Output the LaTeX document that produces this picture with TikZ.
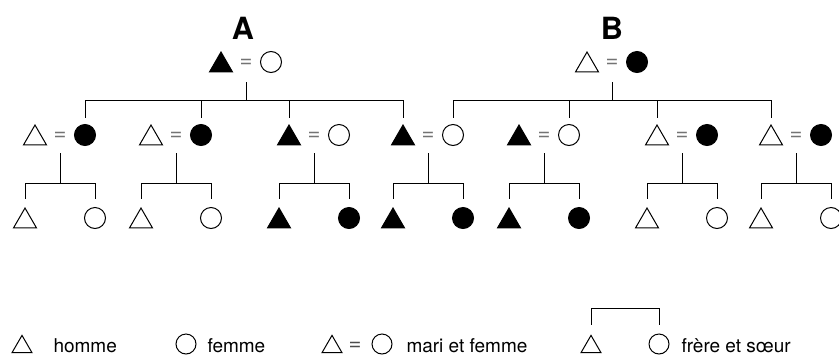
\documentclass[tikz,border=0pt]{standalone}
\usepackage{fontspec}
\setmainfont{TeX Gyre Heros}
\usetikzlibrary{shapes.geometric}
\tikzstyle{man}=[draw, regular polygon, regular polygon sides=3,
                 minimum size=13.3pt, inner sep=0pt, yshift=-1.66pt]
\tikzstyle{woman}=[draw, circle, minimum size=10.5pt, inner sep=0pt]
\tikzstyle{keyman}=[man, minimum size=11.5pt, yshift=0.22pt]
\tikzstyle{keywoman}=[woman, minimum size=10pt]
\tikzstyle{kin}=[fill=black]
\tikzstyle{nonkin}=[fill=white]
\tikzstyle{wed}=[text=black!55, inner sep=0pt, font=\fontsize{11}{13}\selectfont]
\tikzstyle{lineage}=[inner sep=0pt, font=\fontsize{15.3}{18}\selectfont\bfseries]
\tikzstyle{keytext}=[anchor=base west, inner sep=0pt, font=\fontsize{9.5}{11}\selectfont]

\begin{document}
\begin{tikzpicture}[x=0.5pt, y=-0.5pt, line width=0.5pt]
      \useasboundingbox (0,0) rectangle (839,354);
      % Lineages and their founding couples
      \node[lineage] (tA) at (243,28) {A};
      \node[lineage] (tB) at (612,28) {B};
      \node[man, kin] (hA) at (221,62) {};
      \node[wed] (eA) at (246,63) {=};
      \node[woman, nonkin] (wA) at (271,62) {};
      \node[man, nonkin] (hB) at (587,62) {};
      \node[wed] (eB) at (612,63) {=};
      \node[woman, kin] (wB) at (637,62) {};
      \coordinate (barA) at (246,100);
      \coordinate (barB) at (612,100);
      %
      % Second generation couples
      \foreach \m/\name/\hs/\ws in {60/f1/nonkin/kin, 176/f2/nonkin/kin, 314/f3/kin/nonkin,
          428/f4/kin/nonkin, 544/f5/kin/nonkin, 682/f6/nonkin/kin, 796/f7/nonkin/kin}
      {
        \node[man, \hs] (h\name) at (\m-25,135) {};
        \node[wed] (e\name) at (\m,136) {=};
        \node[woman, \ws] (w\name) at (\m+25,135) {};
        \coordinate (bar\name) at (\m,183);
      }
      \draw[shorten <=9.5pt] (eA.center) -- (barA);
      \draw[shorten <=9.5pt] (eB.center) -- (barB);
      \foreach \child in {wf1, wf2, hf3, hf4}
        \draw[shorten >=3pt] (barA) -| (\child);
      \foreach \child in {wf4, wf5, hf6, hf7}
        \draw[shorten >=3pt] (barB) -| (\child);
      %
      % Third generation: brother and sister
      \foreach \m/\name/\s in {60/f1/nonkin, 176/f2/nonkin, 314/f3/kin, 428/f4/kin,
          544/f5/kin, 682/f6/nonkin, 796/f7/nonkin}
      {
        \node[man, \s] (s\name) at (\m-35,218) {};
        \node[woman, \s] (d\name) at (\m+35,218) {};
        \draw[shorten <=8.5pt] (e\name.center) -- (bar\name);
        \draw[shorten >=4pt] (bar\name) -| (s\name);
        \draw[shorten >=4pt] (bar\name) -| (d\name);
      }
      %
      % Key
      \node[keyman, nonkin] (k1) at (22,344) {};
      \node[keytext] (k1t) at (53,352) {homme};
      \node[keywoman, nonkin] (k2) at (186,344) {};
      \node[keytext] (k2t) at (207,352) {femme};
      \node[keyman, nonkin] (k3h) at (332,344) {};
      \node[wed, text=black!70] (k3e) at (355,346) {=};
      \node[keywoman, nonkin] (k3w) at (382,344) {};
      \node[keytext] (k3t) at (406,352) {mari et femme};
      \node[keyman, nonkin] (k4h) at (591,344) {};
      \node[keywoman, nonkin] (k4w) at (659,344) {};
      \coordinate (k4bar) at (625,308);
      \draw[shorten >=4.5pt] (k4bar) -| (k4h);
      \draw[shorten >=4.5pt] (k4bar) -| (k4w);
      \node[keytext] (k4t) at (681,352) {frère et sœur};
\end{tikzpicture}
\end{document}
